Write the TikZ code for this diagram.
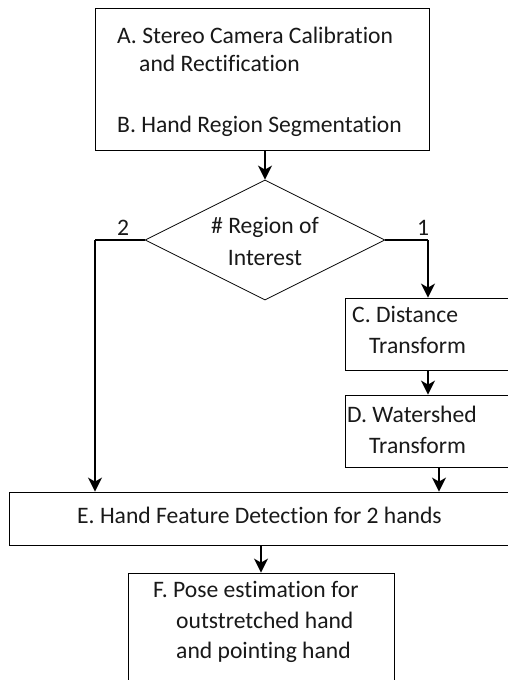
\documentclass[tikz,border=0pt]{standalone}
\usepackage{fontspec}
\setmainfont{Carlito}[RawFeature={-liga}]
\usetikzlibrary{shapes.geometric,arrows.meta}
\begin{document}
\begin{tikzpicture}[x=1bp,y=-1bp,
  box/.style={draw=black, line width=0.8bp, inner sep=0pt, rectangle},
  dia/.style={draw=black, line width=0.8bp, diamond, inner sep=0pt, aspect=2},
  conn/.style={draw=black, line width=2bp, -{Stealth[length=14bp,width=14bp,inset=4bp]}},
  seg/.style={draw=black, line width=2bp},
  txt/.style={anchor=base west, inner sep=0pt, font=\fontsize{23.7}{28}\selectfont, text=black!90},
  ctxt/.style={anchor=base, inner sep=0pt, font=\fontsize{23.7}{28}\selectfont, text=black!90}]
\clip (0,0) rectangle (508,680);
\fill[white] (0,0) rectangle (508,680);
% boxes
\node[box, minimum width=334bp, minimum height=142bp] (ab) at (262,79) {};
\node[dia, minimum width=240bp, minimum height=120bp] (q) at (265,240) {};
\node[box, minimum width=165bp, minimum height=72bp] (c) at (427.5,334) {};
\node[box, minimum width=165bp, minimum height=72bp] (d) at (427.5,431) {};
\node[box, minimum width=501bp, minimum height=53bp] (e) at (259.5,518.5) {};
\node[box, minimum width=266bp, minimum height=110bp] (f) at (261,628) {};
% texts
\node[txt] (ta1) at (117,44) {A. Stereo Camera Calibration};
\node[txt] (ta2) at (139,72) {and Rectification};
\node[txt] (tb) at (117,133) {B. Hand Region Segmentation};
\node[ctxt] (tq1) at (265,233) {\# Region of};
\node[ctxt] (tq2) at (265,265) {Interest};
\node[txt] (tc1) at (352,322) {C. Distance};
\node[txt] (tc2) at (369,353) {Transform};
\node[txt] (td1) at (347,422) {D. Watershed};
\node[txt] (td2) at (369,453) {Transform};
\node[txt] (te) at (77,523) {E. Hand Feature Detection for 2 hands};
\node[txt] (tf1) at (153,597) {F. Pose estimation for};
\node[txt] (tf2) at (176,628) {outstretched hand};
\node[txt] (tf3) at (176,658) {and pointing hand};
\node[ctxt] (l2) at (123,235) {2};
\node[ctxt] (l1) at (423,235) {1};
% connectors
\coordinate (lt) at (95,240);
\coordinate (rt) at (428,240);
\coordinate (dx) at (439,467);
\draw[conn] (ab.south -| q.north) -- (q.north);
\draw[seg] (q.west) -- (lt);
\draw[conn] (lt) -- (lt |- e.north);
\draw[seg] (q.east) -- (rt);
\draw[conn] (rt) -- (rt |- c.north);
\draw[conn] (c.south -| rt) -- (d.north -| rt);
\draw[conn] (d.south -| dx) -- (e.north -| dx);
\draw[conn] (e.south -| f.north) -- (f.north);
\end{tikzpicture}
\end{document}
